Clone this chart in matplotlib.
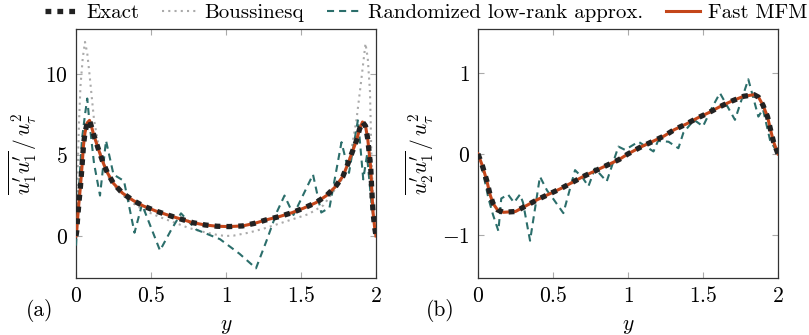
import numpy as np
import matplotlib
matplotlib.use("Agg")
import matplotlib.pyplot as plt
from matplotlib.ticker import FuncFormatter

plt.rcParams['font.family'] = 'serif'
plt.rcParams['font.serif'] = ['cmr10']
plt.rcParams['mathtext.fontset'] = 'cm'
plt.rcParams['axes.formatter.use_mathtext'] = True

# (a) u1'u1' / u_tau^2
y_exact_a = [0, 0.005, 0.01, 0.02, 0.03, 0.04, 0.05, 0.06, 0.075, 0.09, 0.105, 0.12, 0.15, 0.18,
             0.21, 0.25, 0.31, 0.38, 0.45, 0.53, 0.61, 0.69, 0.78, 0.86, 0.94, 1.02, 1.11, 1.19,
             1.27, 1.36, 1.44, 1.52, 1.6, 1.67, 1.73, 1.78, 1.81, 1.84, 1.87, 1.89, 1.91, 1.93,
             1.945, 1.955, 1.965, 1.97, 1.975, 1.98, 1.99, 2.0]
exact_a = [0, 0.3, 1.0, 2.1, 3.1, 4.3, 5.6, 6.4, 7.0, 7.15, 6.7, 6.2, 5.35, 4.55,
           3.9, 3.25, 2.65, 2.2, 1.85, 1.55, 1.3, 1.07, 0.82, 0.68, 0.6, 0.58, 0.62, 0.78,
           1.0, 1.21, 1.44, 1.73, 2.06, 2.5, 3.05, 3.7, 4.4, 5.15, 5.9, 6.6, 7.05, 6.8,
           6.0, 5.1, 4.2, 3.2, 2.3, 1.5, 0.6, 0]
fast_a = exact_a

y_bous_a = [0, 0.01, 0.02, 0.03, 0.045, 0.06, 0.075, 0.09, 0.105, 0.12, 0.15, 0.18, 0.22, 0.28,
            0.35, 0.45, 0.55, 0.65, 0.75, 0.85, 0.95, 1.0, 1.05, 1.15, 1.25, 1.35, 1.45, 1.55,
            1.65, 1.72, 1.78, 1.83, 1.87, 1.9, 1.93, 1.945, 1.96, 1.97, 1.98, 1.99, 2.0]
bous_a = [0, 3.5, 7.0, 9.3, 11.0, 12.0, 11.3, 10.0, 8.6, 7.2, 5.6, 4.5, 3.6, 2.8,
          2.2, 1.6, 1.2, 0.85, 0.5, 0.25, 0.05, 0.0, 0.02, 0.2, 0.45, 0.75, 1.05, 1.35,
          1.9, 2.8, 3.6, 5.0, 7.2, 9.5, 11.9, 11.0, 8.9, 4.7, 2.5, 1.0, 0]

y_rand_a = [0, 0.02, 0.04, 0.06, 0.075, 0.09, 0.12, 0.16, 0.2, 0.25, 0.32, 0.39, 0.44, 0.56,
            0.63, 0.7, 0.8, 0.96, 1.09, 1.2, 1.27, 1.34, 1.39, 1.45, 1.58, 1.635, 1.69, 1.77,
            1.82, 1.88, 1.915, 1.94, 1.97, 2.0]
rand_a = [-0.6, 3.0, 6.0, 7.5, 8.5, 7.0, 4.5, 2.5, 5.9, 3.8, 3.4, 0.2, 1.95, -0.9,
          0.3, 1.4, 0.4, -0.2, -1.1, -2.0, -0.3, 1.5, 2.5, 1.3, 3.8, 1.45, 1.75, 5.8,
          3.9, 7.2, 3.5, 5.0, 2.0, 0]

# (b) u2'u1' / u_tau^2
y_exact_b = [0, 0.03, 0.06, 0.08, 0.1, 0.13, 0.17, 0.25, 0.32, 0.4, 0.48, 0.56, 0.63, 0.7,
             0.78, 0.86, 0.94, 1.0, 1.08, 1.16, 1.24, 1.31, 1.39, 1.46, 1.54, 1.61, 1.69,
             1.77, 1.84, 1.87, 1.9, 1.93, 1.95, 1.97, 2.0]
exact_b = [0, -0.15, -0.34, -0.5, -0.61, -0.69, -0.72, -0.71, -0.64, -0.56, -0.49, -0.42,
           -0.35, -0.28, -0.21, -0.14, -0.07, 0.0, 0.08, 0.15, 0.22, 0.30, 0.37, 0.44, 0.51,
           0.58, 0.65, 0.71, 0.73, 0.70, 0.6, 0.46, 0.3, 0.15, 0]
fast_b = exact_b

y_rand_b = [0, 0.03, 0.07, 0.1, 0.136, 0.155, 0.2, 0.24, 0.28, 0.3, 0.347, 0.413, 0.46, 0.5,
            0.569, 0.647, 0.7, 0.736, 0.78, 0.858, 0.936, 0.98, 1.07, 1.12, 1.17, 1.2, 1.27,
            1.336, 1.369, 1.44, 1.5, 1.56, 1.613, 1.713, 1.802, 1.869, 1.9, 1.947, 2.0]
rand_b = [0, -0.2, -0.55, -0.75, -0.95, -0.55, -0.5, -0.6, -0.5, -0.6, -1.07, -0.28, -0.45,
          -0.55, -0.73, -0.2, -0.3, -0.4, -0.18, -0.34, 0.09, 0.05, 0.15, 0.09, 0.03, 0.16,
          0.15, 0.07, 0.26, 0.42, 0.34, 0.57, 0.75, 0.42, 0.92, 0.46, 0.55, 0.17, 0]

c_exact = '#222222'
c_bous = '#aaaaaa'
c_rand = '#2b6e6b'
c_fast = '#c4461a'

exact_style = dict(color=c_exact, lw=3.8, linestyle=(0, (1.1, 1.15)), dash_capstyle='butt', zorder=5)
bous_style = dict(color=c_bous, lw=1.5, linestyle=(0, (1, 2)), zorder=2)
rand_style = dict(color=c_rand, lw=1.5, linestyle=(0, (3.4, 2.4)), zorder=3)
fast_style = dict(color=c_fast, lw=2.2, zorder=4)

fig = plt.figure(figsize=(8.09, 3.35), dpi=100)
ax1 = fig.add_axes([76/809, 1-278/335, 300/809, 249/335])
ax2 = fig.add_axes([478/809, 1-278/335, 300/809, 249/335])

fmt = FuncFormatter(lambda v, p: '$%g$' % v)

for ax in (ax1, ax2):
    ax.set_xlim(0, 2)
    ax.set_xticks([0, 0.5, 1, 1.5, 2])
    ax.xaxis.set_major_formatter(fmt)
    ax.yaxis.set_major_formatter(fmt)
    ax.tick_params(direction='in', top=True, right=True, length=4, width=0.8,
                   color='#aaaaaa', labelsize=15.5, pad=6)
    for s in ax.spines.values():
        s.set_color('#333333')
        s.set_linewidth(0.9)
    ax.set_xlabel('$y$', fontsize=15.5, labelpad=7)

l_b, = ax1.plot(y_bous_a, bous_a, **bous_style)
l_r, = ax1.plot(y_rand_a, rand_a, **rand_style)
l_f, = ax1.plot(y_exact_a, fast_a, **fast_style)
l_e, = ax1.plot(y_exact_a, exact_a, **exact_style)
ax1.set_ylim(-2.6, 12.8)
ax1.set_yticks([0, 5, 10])
ax1.set_ylabel(r"$\overline{u^{\prime}_1 u^{\prime}_1}\,/\,u_\tau^2$", fontsize=15.5, labelpad=4)

ax2.plot(y_rand_b, rand_b, **rand_style)
ax2.plot(y_exact_b, fast_b, **fast_style)
ax2.plot(y_exact_b, exact_b, **exact_style)
ax2.set_ylim(-1.53, 1.54)
ax2.set_yticks([-1, 0, 1])
ax2.set_ylabel(r"$\overline{u^{\prime}_2 u^{\prime}_1}\,/\,u_\tau^2$", fontsize=15.5, labelpad=4)

fig.text(40/809, 1-310/335, '(a)', fontsize=15.5, ha='center', va='center')
fig.text(440/809, 1-311/335, '(b)', fontsize=15.5, ha='center', va='center')

fig.legend([l_e, l_b, l_r, l_f], ['Exact', 'Boussinesq', 'Randomized low-rank approx.', 'Fast MFM'],
           loc='center', bbox_to_anchor=(426/809, 1-13/335), ncol=4, frameon=False,
           fontsize=15, handlelength=1.6, handletextpad=0.4, columnspacing=1.1,
           borderpad=0, borderaxespad=0)

fig.savefig('out.png', dpi=100)
